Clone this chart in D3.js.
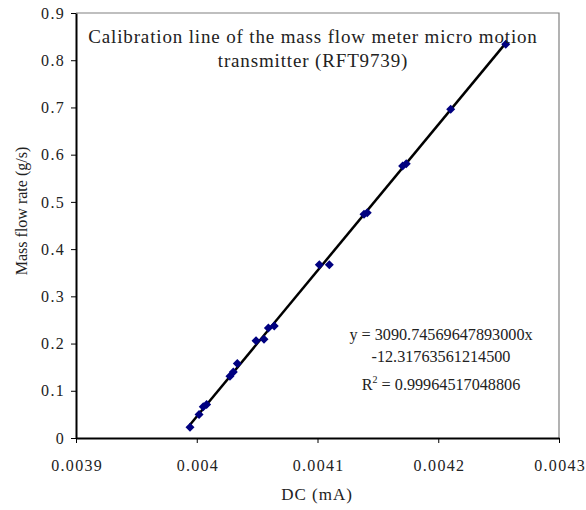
<!DOCTYPE html>
<html>
<head>
<meta charset="utf-8">
<script src="https://cdn.jsdelivr.net/npm/d3@7"></script>
<style>
  body { margin: 0; background: #fff; }
  text { font-family: "Liberation Serif", "Times New Roman", serif; fill: #222; }
</style>
</head>
<body>
<div id="chart"></div>
<script>
// measured DC current (mA) and mass flow rate (g/s)
var dc = [0.0039944, 0.0040019, 0.0040054, 0.0040082, 0.0040275, 0.0040303, 0.0040336,
          0.0040491, 0.0040557, 0.0040593, 0.0040642, 0.0041015, 0.0041098, 0.0041385,
          0.0041412, 0.0041705, 0.0041735, 0.0042103, 0.0042559];
var flow = [0.023, 0.050, 0.066, 0.071, 0.131, 0.140, 0.158,
            0.206, 0.209, 0.233, 0.237, 0.367, 0.367, 0.474,
            0.477, 0.576, 0.581, 0.696, 0.834];

// trendline coefficients as printed on the chart
var slope = 3090.74569647893000,
    intercept = -12.31763561214500;

var xTicks = [0.0039, 0.004, 0.0041, 0.0042, 0.0043];
var yTicks = [0, 0.1, 0.2, 0.3, 0.4, 0.5, 0.6, 0.7, 0.8, 0.9];

var titleLines = ["Calibration line of the mass flow meter micro motion", "transmitter (RFT9739)"];
var eqLines = ["y = 3090.74569647893000x", "-12.31763561214500"];

var W = 586, H = 510;
var margin = { top: 13, left: 76, right: 27, bottom: 72 };
var width = W - margin.left - margin.right,
    height = H - margin.top - margin.bottom;

var svg = d3.select("#chart").append("svg")
    .attr("width", W)
    .attr("height", H);

var g = svg.append("g")
    .attr("transform", "translate(" + margin.left + "," + margin.top + ")");

var x = d3.scaleLinear().domain([0.0039, 0.0043]).range([0, width]);
var y = d3.scaleLinear().domain([0, 0.9]).range([height, 0]);

// frame (top + right in grey)
g.append("path")
    .attr("d", "M0,0H" + width + "V" + height)
    .attr("fill", "none")
    .attr("stroke", "#808080")
    .attr("stroke-width", 1.2);

// axes
var xAxis = g.append("g")
    .attr("transform", "translate(0," + height + ")")
    .call(d3.axisBottom(x).tickValues(xTicks).tickSize(5).tickSizeOuter(0)
        .tickFormat(function (d) { return +d.toFixed(4) + ""; }));

var yAxis = g.append("g")
    .call(d3.axisLeft(y).tickValues(yTicks).tickSize(5).tickSizeOuter(0)
        .tickFormat(function (d) { return +d.toFixed(1) + ""; }));

xAxis.select(".domain").attr("stroke", "#000").attr("stroke-width", 2);
yAxis.select(".domain").attr("stroke", "#000").attr("stroke-width", 2);
svg.selectAll(".tick line").attr("stroke", "#000").attr("stroke-width", 1);
svg.selectAll(".tick text")
    .attr("font-family", "Liberation Serif, serif")
    .attr("font-size", 16)
    .attr("letter-spacing", 1.3)
    .attr("fill", "#222");
xAxis.selectAll(".tick text").attr("dy", null).attr("y", 33).attr("dx", 0.65);
yAxis.selectAll(".tick text").attr("x", -11);

// trendline over the data range
var xr = d3.extent(dc);
g.append("line")
    .attr("x1", x(xr[0])).attr("y1", y(slope * xr[0] + intercept))
    .attr("x2", x(xr[1])).attr("y2", y(slope * xr[1] + intercept))
    .attr("stroke", "#000")
    .attr("stroke-width", 2.5);

// diamond markers
var pts = dc.map(function (d, i) { return [d, flow[i]]; });
g.selectAll(".pt")
    .data(pts)
    .enter().append("path")
    .attr("class", "pt")
    .attr("transform", function (d) { return "translate(" + x(d[0]) + "," + y(d[1]) + ")"; })
    .attr("d", "M0,-4.5L4.5,0L0,4.5L-4.5,0Z")
    .attr("fill", "#000080");

// title inside plot
g.selectAll(".title")
    .data(titleLines)
    .enter().append("text")
    .attr("class", "title")
    .attr("x", 237)
    .attr("y", function (d, i) { return 30 + i * 24; })
    .attr("text-anchor", "middle")
    .attr("font-size", 19)
    .attr("letter-spacing", 0.85)
    .text(function (d) { return d; });

// equation
var eq = g.append("g").attr("transform", "translate(365,0)");
eq.selectAll(".eq")
    .data(eqLines)
    .enter().append("text")
    .attr("class", "eq")
    .attr("x", 0)
    .attr("y", function (d, i) { return 327 + i * 22; })
    .attr("text-anchor", "middle")
    .attr("font-size", 16.2)
    .text(function (d) { return d; });
var r2 = eq.append("text")
    .attr("x", 0)
    .attr("y", 377)
    .attr("text-anchor", "middle")
    .attr("font-size", 16.2);
r2.append("tspan").text("R");
r2.append("tspan").attr("font-size", 10).attr("dy", -7).text("2");
r2.append("tspan").attr("dy", 7).text(" = 0.99964517048806");

// axis titles
svg.append("text")
    .attr("x", 317)
    .attr("y", 500)
    .attr("text-anchor", "middle")
    .attr("font-size", 17)
    .attr("letter-spacing", 1)
    .text("DC (mA)");

svg.append("text")
    .attr("transform", "translate(27,211) rotate(-90)")
    .attr("text-anchor", "middle")
    .attr("font-size", 16)
    .text("Mass flow rate (g/s)");
</script>
</body>
</html>
